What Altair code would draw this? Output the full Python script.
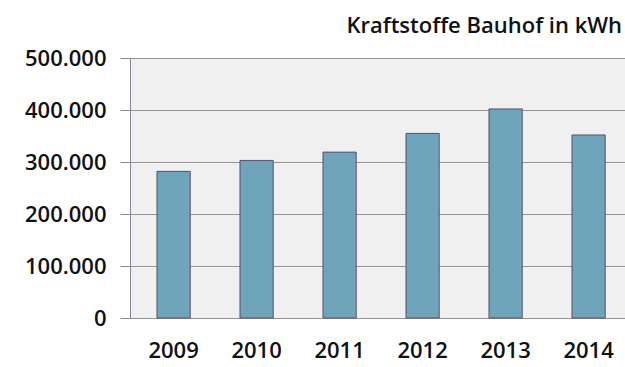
import altair as alt
import pandas as pd

years = ["2009", "2010", "2011", "2012", "2013", "2014"]
values = [282000, 303000, 319000, 355000, 402000, 352000]
y_ticks = [0, 100000, 200000, 300000, 400000, 500000]

df = pd.DataFrame({"Jahr": years, "kWh": values})

FONT = "Open Sans"

chart = alt.Chart(df).mark_bar(
    color="#6ea5ba", stroke="#5b4d6b", strokeWidth=1
).encode(
    x=alt.X("Jahr:N", sort=years,
            scale=alt.Scale(paddingInner=0.6, paddingOuter=0.282, align=0.577),
            axis=alt.Axis(title=None, labelAngle=0, labelFontSize=22, labelFont=FONT,
                          labelFontWeight=600, labelColor="#111111", labelPadding=22,
                          ticks=False, domain=False, grid=False)),
    y=alt.Y("kWh:Q", scale=alt.Scale(domain=[0, 500000], nice=False),
            axis=alt.Axis(title=None, values=y_ticks,
                          labelExpr="replace(format(datum.value, ',d'), ',', '.')",
                          labelFontSize=22,
                          labelFont=FONT, labelFontWeight=600, labelColor="#111111",
                          labelPadding=14, tickSize=10, tickColor="#8c8c8c",
                          domainColor="#8a7f95", gridColor="#959595", gridWidth=1.2)),
).properties(
    width=495, height=260,
    title=alt.TitleParams("Kraftstoffe Bauhof in kWh", anchor="end", fontSize=22,
                          font=FONT, fontWeight=600, color="#111111", offset=9, dx=-3),
    autosize=alt.AutoSizeParams(type="none"),
    padding={"left": 130, "top": 58, "right": 0, "bottom": 49},
).configure(
    background="white",
).configure_view(
    fill="#f0f0f0", stroke=None
)

chart.save("out.html", embed_options={"renderer": "svg", "actions": False})
